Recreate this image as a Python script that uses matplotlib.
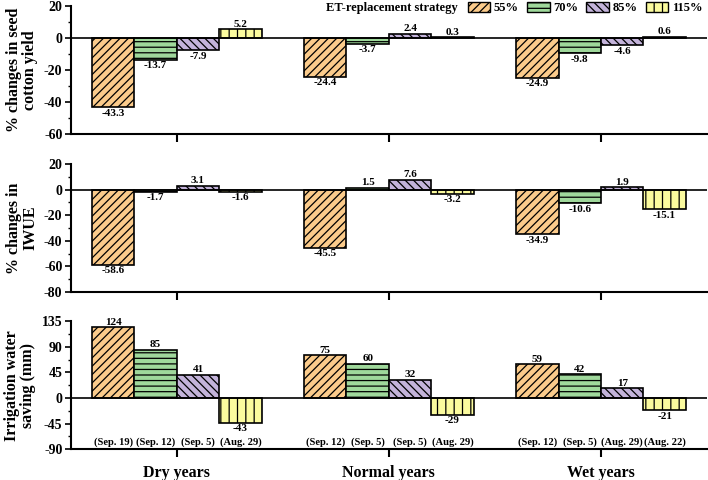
import numpy as np
import matplotlib.pyplot as plt
from matplotlib.patches import Patch
from matplotlib.ticker import MultipleLocator

plt.rcParams['font.family'] = ['Liberation Serif', 'DejaVu Serif']
plt.rcParams['font.weight'] = 'bold'
plt.rcParams['hatch.linewidth'] = 0.9
plt.rcParams['axes.unicode_minus'] = False

groups = ['Dry years', 'Normal years', 'Wet years']
strategies = ['55%', '70%', '85%', '115%']
colors = ['#FBCB8B', '#9FD89B', '#C3B3DA', '#FBFB9E']
hatches = ['////', '---', '\\\\\\\\', '||']

# rows: strategy, cols: dry / normal / wet
yield_change = [[-43.3, -24.4, -24.9],
                [-13.7, -3.7, -9.8],
                [-7.9, 2.4, -4.6],
                [5.2, 0.3, 0.6]]
iwue_change = [[-58.6, -45.5, -34.9],
               [-1.7, 1.5, -10.6],
               [3.1, 7.6, 1.9],
               [-1.6, -3.2, -15.1]]
water_saving = [[124, 75, 59],
                [85, 60, 42],
                [41, 32, 17],
                [-43, -29, -21]]
dates = [['(Sep. 19)', '(Sep. 12)', '(Sep. 12)'],
         ['(Sep. 12)', '(Sep. 5)', '(Sep. 5)'],
         ['(Sep. 5)', '(Sep. 5)', '(Aug. 29)'],
         ['(Aug. 29)', '(Aug. 29)', '(Aug. 22)']]

panels = [
    (yield_change, '% changes in seed\ncotton yield', (-60, 20), 20, 10, '{:.1f}', 0.721, 0.988),
    (iwue_change, '% changes in\nIWUE', (-80, 20), 20, 10, '{:.1f}', 0.392, 0.658),
    (water_saving, 'Irrigation water\nsaving (mm)', (-90, 135), 45, 22.5, '{:d}', 0.064, 0.331),
]

fig = plt.figure(figsize=(7.08, 4.8), dpi=100)
x = np.arange(len(groups))
w = 0.2

for pi, (vals, ylabel, ylim, major, minor, fmt, bot, top) in enumerate(panels):
    ax = fig.add_axes([0.0999, bot, 0.8987, top - bot])
    span = ylim[1] - ylim[0]
    for si in range(4):
        xs = x + (si - 1.5) * w
        ax.bar(xs, vals[si], w, color=colors[si], hatch=hatches[si],
               edgecolor='black', linewidth=1.2)
        for xi, v in zip(xs, vals[si]):
            if v >= 0:
                ax.text(xi, v + span * 0.004, fmt.format(v), ha='center', va='bottom',
                        fontsize=8, fontweight='bold')
            else:
                ax.text(xi, v - span * 0.012, fmt.format(v), ha='center', va='top',
                        fontsize=8, fontweight='bold')
        if pi == 2:
            for xi, d in zip(xs, dates[si]):
                ax.text(xi, -77, d, ha='center', va='center', fontsize=7.6, fontweight='bold')
    ax.axhline(0, color='black', linewidth=1.2, zorder=3)
    ax.set_xlim(-0.5, 2.5)
    ax.set_ylim(*ylim)
    ax.yaxis.set_major_locator(MultipleLocator(major))
    ax.yaxis.set_minor_locator(MultipleLocator(minor))
    ax.set_xticks(x)
    if pi == 2:
        ax.set_xticklabels(groups, fontsize=11.5, fontweight='bold')
    else:
        ax.set_xticklabels([])
    ax.spines['top'].set_visible(False)
    ax.spines['right'].set_visible(False)
    ax.spines['left'].set_linewidth(1.5)
    ax.spines['bottom'].set_linewidth(1.5)
    ax.tick_params(axis='y', which='major', length=4, width=1.2, labelsize=10, pad=2)
    ax.tick_params(axis='y', which='minor', length=2.5, width=1.0)
    ax.tick_params(axis='x', which='major', length=6, width=1.5, pad=5)
    for lab in ax.get_yticklabels():
        lab.set_fontweight('bold')
    ax.set_ylabel(ylabel, fontsize=11.5, fontweight='bold', linespacing=1.05, labelpad=4)

handles = [Patch(facecolor=c, hatch=h, edgecolor='black', linewidth=1.0)
           for c, h in zip(colors, hatches)]
fig.legend(handles, strategies, loc='center right', bbox_to_anchor=(1.003, 0.983),
           ncol=4, frameon=False, prop={'size': 9, 'weight': 'bold'},
           handlelength=1.8, handleheight=0.85, handletextpad=0.3, columnspacing=0.65,
           borderpad=0.1)
fig.text(0.647, 0.983, 'ET-replacement strategy', ha='right', va='center',
         fontsize=9, fontweight='bold')

fig.savefig('out.png', dpi=100)
